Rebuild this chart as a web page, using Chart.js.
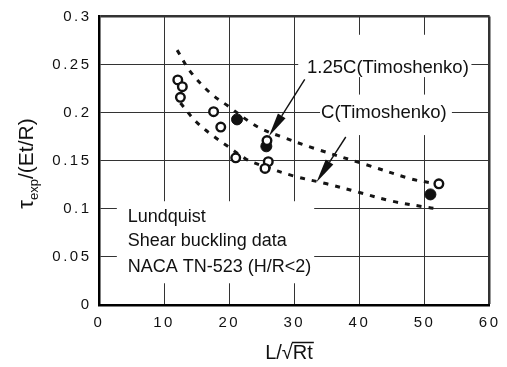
<!DOCTYPE html>
<html><head><meta charset="utf-8">
<script src="https://cdn.jsdelivr.net/npm/chart.js@4"></script>
<style>html,body{margin:0;padding:0;background:#fff}canvas{display:block}</style>
</head><body>
<canvas id="c" width="507" height="367"></canvas>
<script>
// ---- tick labels ----
const xTickLabels = ['0','10','20','30','40','50','60'];
const yTickLabels = ['0','0.05','0.1','0.15','0.2','0.25','0.3'];
// ---- Lundquist shear buckling test data ----
const openX   = [12.1, 12.8, 12.5, 17.6, 18.7, 21.0, 25.8, 26.0, 25.5, 52.2];
const openY   = [0.234, 0.227, 0.216, 0.201, 0.185, 0.153, 0.171, 0.149, 0.142, 0.126];
const filledX = [21.2, 25.7, 50.9];
const filledY = [0.193, 0.165, 0.115];
// ---- 1.25C (Timoshenko) curve ----
const upperX = [12, 14, 17, 20, 23, 25, 28, 33, 41, 48, 51];
const upperY = [0.265, 0.243, 0.221, 0.206, 0.191, 0.183, 0.175, 0.163, 0.146, 0.131, 0.127];
// ---- C (Timoshenko) curve ----
const lowerX = [12.5, 15, 17.5, 20, 22.5, 25, 30, 35, 40, 45, 50, 52];
const lowerY = [0.21, 0.19, 0.176, 0.164, 0.152, 0.145, 0.134, 0.126, 0.117, 0.108, 0.102, 0.1];
// ---- annotation texts ----
const labelUpper = '1.25C(Timoshenko)';
const labelLower = 'C(Timoshenko)';
const noteLines = ['Lundquist', 'Shear buckling data', 'NACA TN-523 (H/R<2)'];
// annotation anchors in data units
const arrowUpper = {from:[31.6, 0.2346], to:[26.1, 0.1755]};
const arrowLower = {from:[37.9, 0.1747], to:[33.4, 0.1277]};
const labelUpperAt = [31.95, 0.2410];
const labelLowerAt = [34.1, 0.1940];
const noteAt = [4.4, [0.0866, 0.0611, 0.0344]];
const boxes = [
  {x:[30.6, 57.2], y:[0.237, 0.281]},
  {x:[33.95, 54.2], y:[0.1767, 0.2188]},
  {x:[2.74, 33.05], y:[0.0226, 0.1079]}
];

const FONT = '"Liberation Sans", Arial, Helvetica, sans-serif';
const pts = (xs, ys) => xs.map((x, i) => ({x, y: ys[i]}));

function arrow(ctx, x1, y1, x2, y2) {
  const ang = Math.atan2(y2 - y1, x2 - x1);
  const L = 24, W = 4.5;
  const bx = x2 - L * Math.cos(ang), by = y2 - L * Math.sin(ang);
  ctx.beginPath();
  ctx.moveTo(x1, y1); ctx.lineTo(bx, by);
  ctx.lineWidth = 1.4; ctx.strokeStyle = '#111'; ctx.stroke();
  ctx.beginPath();
  ctx.moveTo(x2, y2);
  ctx.lineTo(bx + W * Math.sin(ang), by - W * Math.cos(ang));
  ctx.lineTo(bx - W * Math.sin(ang), by + W * Math.cos(ang));
  ctx.closePath(); ctx.fillStyle = '#111'; ctx.fill();
}

const deco = {
  id: 'deco',
  beforeDraw(chart) { chart.ctx.letterSpacing = '2.5px'; },
  beforeDatasetsDraw(chart) {
    const {ctx, scales: {x, y}} = chart;
    ctx.save();
    ctx.fillStyle = '#fff';
    boxes.forEach(b => {
      const l = x.getPixelForValue(b.x[0]), r = x.getPixelForValue(b.x[1]);
      const t = y.getPixelForValue(b.y[1]), btm = y.getPixelForValue(b.y[0]);
      ctx.fillRect(l, t, r - l, btm - t);
    });
    ctx.restore();
  },
  afterDraw(chart) {
    const {ctx, scales: {x, y}} = chart;
    ctx.save();
    ctx.letterSpacing = '0px';
    ctx.fillStyle = '#111';
    ctx.textAlign = 'left'; ctx.textBaseline = 'alphabetic';
    ctx.font = '18.5px ' + FONT;
    ctx.fillText(labelUpper, x.getPixelForValue(labelUpperAt[0]), y.getPixelForValue(labelUpperAt[1]));
    ctx.fillText(labelLower, x.getPixelForValue(labelLowerAt[0]), y.getPixelForValue(labelLowerAt[1]));
    ctx.font = '18px ' + FONT;
    noteLines.forEach((s, i) => ctx.fillText(s, x.getPixelForValue(noteAt[0]), y.getPixelForValue(noteAt[1][i])));
    [arrowUpper, arrowLower].forEach(a => arrow(ctx,
      x.getPixelForValue(a.from[0]), y.getPixelForValue(a.from[1]),
      x.getPixelForValue(a.to[0]), y.getPixelForValue(a.to[1])));

    // x-axis title  L/√Rt  with overbar
    ctx.font = '20px ' + FONT;
    const a = 'L/\u221A', b = 'Rt';
    const wa = ctx.measureText(a).width, wb = ctx.measureText(b).width;
    const x0 = 289 - (wa + wb) / 2, base = 359;
    ctx.fillText(a, x0, base); ctx.fillText(b, x0 + wa, base);
    ctx.beginPath(); ctx.moveTo(x0 + wa - 1, base - 16.5); ctx.lineTo(x0 + wa + wb + 1, base - 16.5);
    ctx.lineWidth = 1.5; ctx.strokeStyle = '#111'; ctx.stroke();

    // y-axis title  τexp/(Et/R)
    ctx.translate(33, 163.5); ctx.rotate(-Math.PI / 2);
    const parts = [['\u03C4', 22, 0], ['exp', 13, 4.5], ['/(Et/R)', 21, 0]];
    let tot = 0;
    parts.forEach(p => { ctx.font = p[1] + 'px ' + FONT; p.push(ctx.measureText(p[0]).width); tot += p[3]; });
    let cx = -tot / 2;
    parts.forEach(p => { ctx.font = p[1] + 'px ' + FONT; ctx.fillText(p[0], cx, p[2]); cx += p[3]; });
    ctx.restore();
  }
};

new Chart(document.getElementById('c'), {
  type: 'scatter',
  data: {
    datasets: [
      {data: pts(openX, openY), pointStyle: 'circle', pointRadius: 4.3, pointBorderWidth: 2.4,
       pointBackgroundColor: '#fff', pointBorderColor: '#111', showLine: false},
      {data: pts(filledX, filledY), pointStyle: 'circle', pointRadius: 5.5, pointBorderWidth: 1,
       pointBackgroundColor: '#111', pointBorderColor: '#111', showLine: false},
      {data: pts(upperX, upperY), showLine: true, pointRadius: 0, borderColor: '#151515',
       borderWidth: 3, borderDash: [5, 7], tension: 0.35, fill: false},
      {data: pts(lowerX, lowerY), showLine: true, pointRadius: 0, borderColor: '#151515',
       borderWidth: 3, borderDash: [5, 7], tension: 0.35, fill: false}
    ]
  },
  options: {
    responsive: false,
    animation: false,
    events: [],
    layout: {padding: {left: 0, top: 13, right: 14, bottom: 0}},
    plugins: {legend: {display: false}, tooltip: {enabled: false}},
    scales: {
      x: {
        type: 'linear', min: 0, max: 60,
        afterFit: s => { s.height = 62; },
        ticks: {stepSize: 10, padding: 9, color: '#111', font: {family: FONT, size: 15},
                callback: (v, i) => xTickLabels[i], maxRotation: 0},
        grid: {drawTicks: false, color: '#333',
               lineWidth: c => (c.index === xTickLabels.length - 1 ? 2.5 : 1)},
        border: {display: true, color: '#000', width: 2.5}
      },
      y: {
        type: 'linear', min: 0, max: 0.3,
        afterFit: s => { s.width = 99; },
        ticks: {stepSize: 0.05, padding: 7.5, color: '#111', font: {family: FONT, size: 15},
                callback: (v, i) => yTickLabels[i]},
        grid: {drawTicks: false, color: '#333',
               lineWidth: c => (c.index === yTickLabels.length - 1 ? 2.5 : 1)},
        border: {display: true, color: '#000', width: 2.5}
      }
    }
  },
  plugins: [deco]
});
</script>
</body></html>
